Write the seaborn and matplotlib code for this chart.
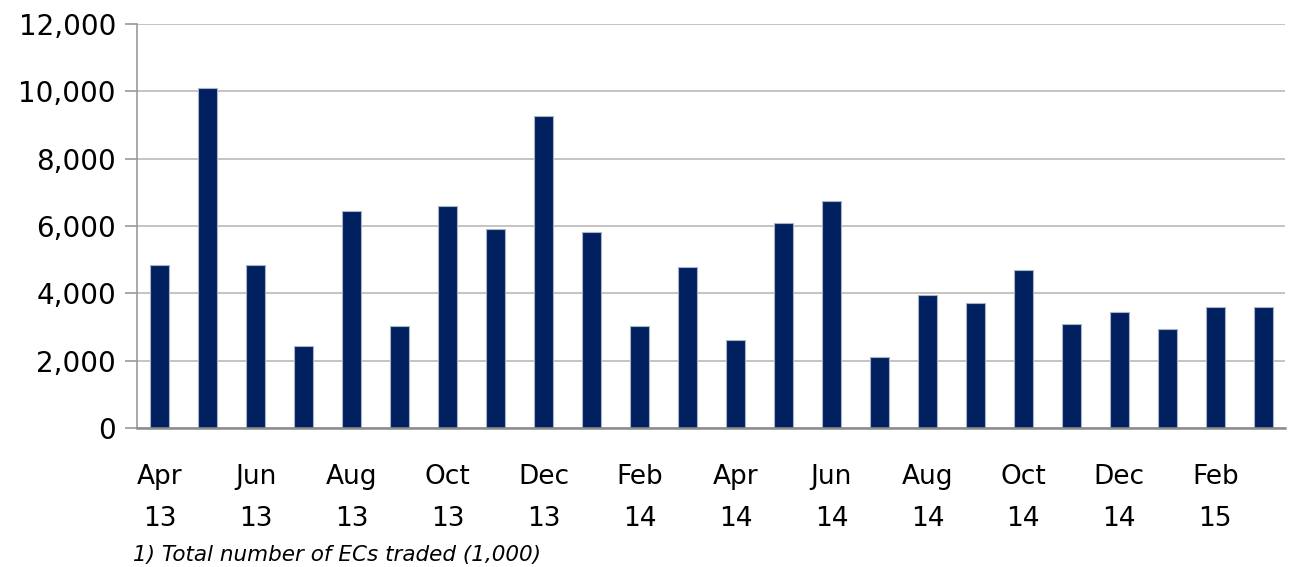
import matplotlib
matplotlib.use("Agg")
import matplotlib.pyplot as plt
import seaborn as sns
import pandas as pd

# Datos
months = ["Apr 13", "May 13", "Jun 13", "Jul 13", "Aug 13", "Sep 13",
          "Oct 13", "Nov 13", "Dec 13", "Jan 14", "Feb 14", "Mar 14",
          "Apr 14", "May 14", "Jun 14", "Jul 14", "Aug 14", "Sep 14",
          "Oct 14", "Nov 14", "Dec 14", "Jan 15", "Feb 15", "Mar 15"]
traded = [4850, 10100, 4850, 2450, 6450, 3020,
          6600, 5900, 9250, 5820, 3020, 4780,
          2600, 6100, 6750, 2100, 3950, 3720,
          4700, 3080, 3450, 2950, 3600, 3600]
yticks = [0, 2000, 4000, 6000, 8000, 10000, 12000]
footnote = "1) Total number of ECs traded (1,000)"

df = pd.DataFrame({"month": months, "traded": traded})

sns.set_style("white")
plt.rcParams["font.family"] = ["DejaVu Sans"]
plt.rcParams["text.color"] = "black"
plt.rcParams["xtick.color"] = "black"
plt.rcParams["ytick.color"] = "black"

fig = plt.figure(figsize=(12.9, 5.67), dpi=100)
ax = fig.add_axes([0.106, 0.245, 0.89, 0.713])

sns.barplot(data=df, x="month", y="traded", color="#00205f", width=0.4,
            edgecolor="#a9b4cc", linewidth=0.8, saturation=1, ax=ax)

ax.set_ylim(0, 12000)
ax.set_xlim(-0.48, 23.45)
ax.set_yticks(yticks)
ax.set_yticklabels([f"{v:,}" for v in yticks], fontsize=20)
ax.yaxis.grid(True, color="#bfbfbf", linewidth=1.3)
ax.set_axisbelow(True)

# etiquetas cada dos meses
ticks = list(range(0, len(months), 2))
ax.set_xticks(ticks)
ax.set_xticklabels([months[i].replace(" ", "\n") for i in ticks], fontsize=19,
                   linespacing=1.8)
ax.tick_params(axis="x", length=0, pad=26)
ax.tick_params(axis="y", length=9, width=1.2, color="#999999", pad=6, left=True,
               labelcolor="black")

ax.set_xlabel("")
ax.set_ylabel("")
for s in ["top", "right"]:
    ax.spines[s].set_visible(False)
ax.spines["left"].set_color("#999999")
ax.spines["left"].set_linewidth(1.2)
ax.spines["bottom"].set_color("#8c8c8c")
ax.spines["bottom"].set_linewidth(1.8)

fig.text(0.103, 0.003, footnote, fontsize=15.5, style="italic", ha="left",
         va="bottom", color="black")

fig.savefig("out.png", dpi=100)
